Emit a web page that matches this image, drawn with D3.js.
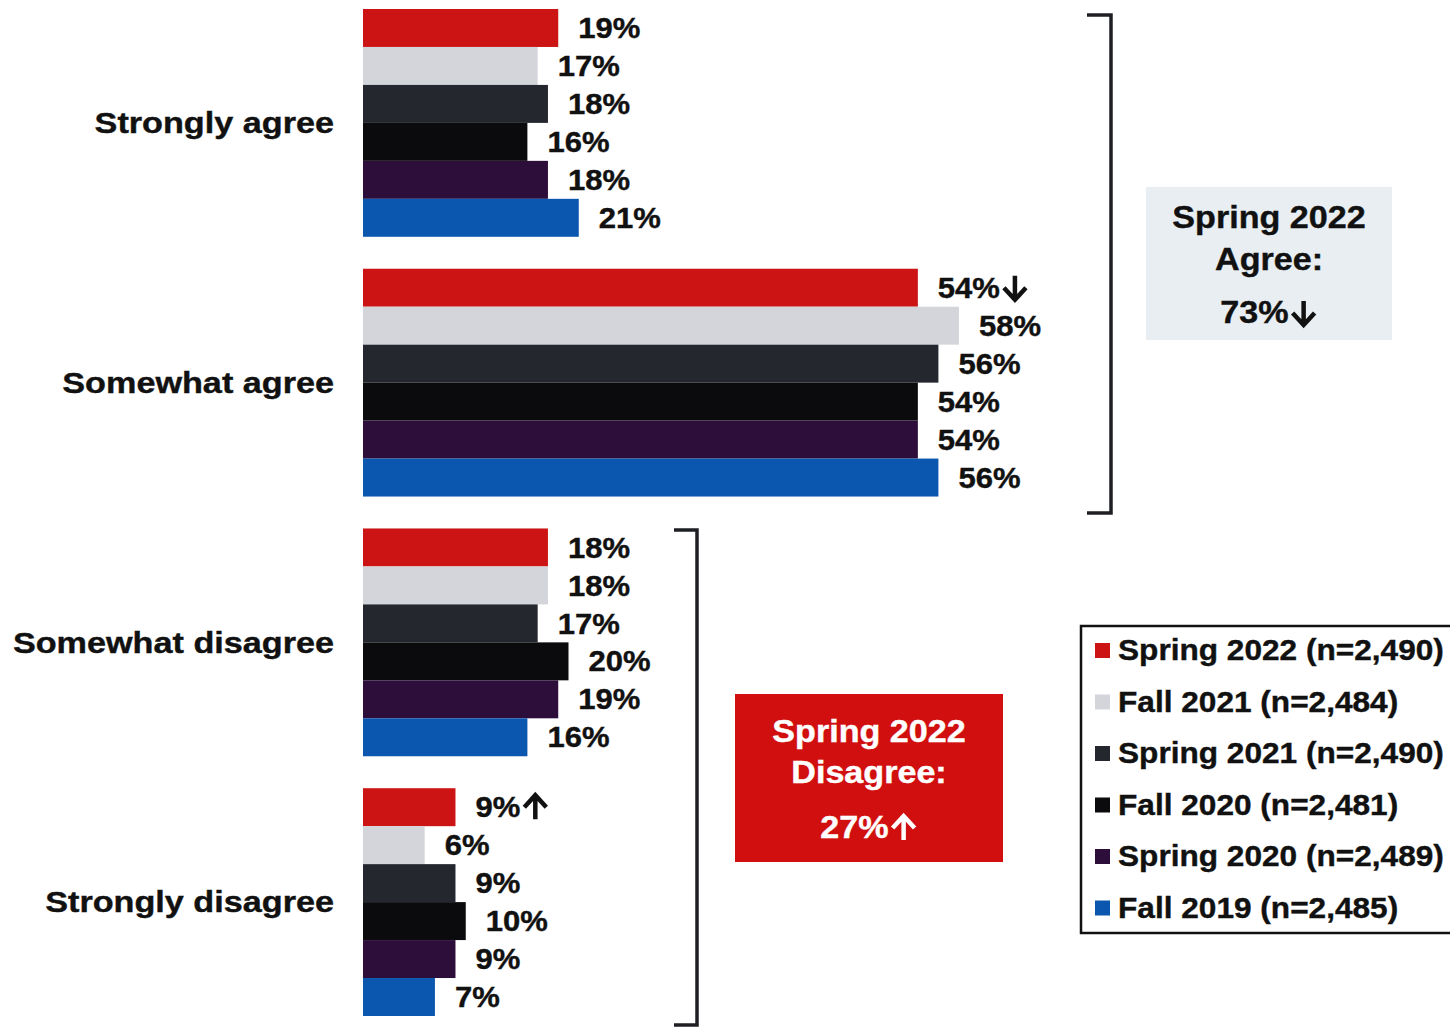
<!DOCTYPE html>
<html>
<head>
<meta charset="utf-8">
<script src="https://cdn.jsdelivr.net/npm/d3@7"></script>
<style>
  html, body { margin: 0; padding: 0; background: #fff; }
  svg { display: block; font-family: "Liberation Sans", Arial, sans-serif; font-weight: bold; }
</style>
</head>
<body>
<svg id="chart" width="1450" height="1027"></svg>
<script>
// Response categories (one bar group each)
const categories = ["Strongly agree", "Somewhat agree", "Somewhat disagree", "Strongly disagree"];

// Survey waves, top bar to bottom bar within each group
const waves = [
  "Spring 2022 (n=2,490)",
  "Fall 2021 (n=2,484)",
  "Spring 2021 (n=2,490)",
  "Fall 2020 (n=2,481)",
  "Spring 2020 (n=2,489)",
  "Fall 2019 (n=2,485)"
];

// Percent of respondents per category, by wave
const spring2022 = [19, 54, 18, 9];
const fall2021   = [17, 58, 18, 6];
const spring2021 = [18, 56, 17, 9];
const fall2020   = [16, 54, 20, 10];
const spring2020 = [18, 54, 19, 9];
const fall2019   = [21, 56, 16, 7];

// Significant change markers for the latest wave
const spring2022Change = ["", "down", "", "up"];

const waveValues = [spring2022, fall2021, spring2021, fall2020, spring2020, fall2019];
const waveColors = ["#cc1414", "#d3d5db", "#25272e", "#0b0b0d", "#2d0e3a", "#0b56ae"];

// Summary totals for Spring 2022
const agreeTotal = 73;
const disagreeTotal = 27;

const svg = d3.select("#chart");

const y0 = d3.scaleBand().domain(categories).range([9, 1016]).paddingInner(0.123).paddingOuter(0);
const y1 = d3.scaleBand().domain(waves).range([0, y0.bandwidth()]).padding(0);
const x = d3.scaleLinear().domain([0, 60]).range([363, 363 + 616.5]);
const color = d3.scaleOrdinal().domain(waves).range(waveColors);

const rows = [];
categories.forEach((c, ci) => {
  waves.forEach((w, wi) => {
    rows.push({ cat: c, wave: w, value: waveValues[wi][ci], change: wi === 0 ? spring2022Change[ci] : "" });
  });
});

// Heavy up/down arrow drawn as a path; (ax, cy) is left edge / vertical centre
function drawArrow(parent, ax, cy, dir, stroke) {
  const h = 24, w = 24;
  const cx = ax + w / 2;
  const top = cy - h / 2, bot = cy + h / 2;
  const d = dir === "down"
    ? `M${cx},${top} V${bot - 2} M${ax + 1},${bot - w / 2} L${cx},${bot} L${ax + w - 1},${bot - w / 2}`
    : `M${cx},${bot} V${top + 2} M${ax + 1},${top + w / 2} L${cx},${top} L${ax + w - 1},${top + w / 2}`;
  parent.append("path").attr("d", d).attr("fill", "none")
    .attr("stroke", stroke).attr("stroke-width", 4.5)
    .attr("stroke-linejoin", "miter").attr("stroke-linecap", "butt");
}

// Bars
svg.append("g").selectAll("rect").data(rows).join("rect")
  .attr("x", x(0))
  .attr("y", d => y0(d.cat) + y1(d.wave))
  .attr("width", d => x(d.value) - x(0))
  .attr("height", y1.bandwidth())
  .attr("fill", d => color(d.wave));

// Value labels
const labelScale = 1.07;
const lblG = svg.append("g");
rows.forEach(d => {
  const lx = x(d.value) + 20;
  const ly = y0(d.cat) + y1(d.wave) + y1.bandwidth() / 2;
  const t = lblG.append("text")
    .attr("transform", `translate(${lx},${ly}) scale(${labelScale},1)`)
    .attr("dominant-baseline", "central")
    .attr("font-size", 29)
    .attr("fill", "#111")
    .attr("stroke", "#111").attr("stroke-width", 0.4)
    .text(d.value + "%");
  if (d.change) {
    const w = t.node().getBBox().width * labelScale;
    drawArrow(lblG, lx + w + 3, ly, d.change, "#111");
  }
});

// Category labels
svg.append("g").selectAll("text").data(categories).join("text")
  .attr("transform", d => `translate(334,${y0(d) + y0.bandwidth() / 2}) scale(1.14,1)`)
  .attr("text-anchor", "end")
  .attr("dominant-baseline", "central")
  .attr("font-size", 30)
  .attr("fill", "#111")
  .attr("stroke", "#111").attr("stroke-width", 0.4)
  .text(d => d);

// Brackets grouping agree / disagree
const bracket = (xv, top, bottom, arm) => {
  svg.append("path")
    .attr("d", `M${xv - arm},${top} H${xv} V${bottom} H${xv - arm}`)
    .attr("fill", "none")
    .attr("stroke", "#1e1f24")
    .attr("stroke-width", 3.5);
};
bracket(1111, 15, 513, 24);
bracket(697, 530, 1025, 23);

// Summary boxes
function summaryBox(bx, by, bw, bh, fill, textColor, lines, total, dir, offsets) {
  const g = svg.append("g");
  g.append("rect").attr("x", bx).attr("y", by).attr("width", bw).attr("height", bh).attr("fill", fill);
  const cx = bx + bw / 2;
  lines.forEach((t, i) => {
    g.append("text")
      .attr("transform", `translate(${cx},${by + offsets[i]}) scale(1.1,1)`)
      .attr("text-anchor", "middle").attr("dominant-baseline", "central")
      .attr("font-size", 31).attr("fill", textColor)
      .attr("stroke", textColor).attr("stroke-width", 0.4)
      .text(t);
  });
  // total line: "NN%" followed by an arrow, centred as a unit
  const ly = by + offsets[2];
  const t = g.append("text")
    .attr("dominant-baseline", "central")
    .attr("font-size", 31).attr("fill", textColor)
    .attr("stroke", textColor).attr("stroke-width", 0.4)
    .text(total + "%");
  const tw = t.node().getBBox().width * 1.1;
  const unit = tw + 3 + 26;
  const sx = cx - unit / 2;
  t.attr("transform", `translate(${sx},${ly}) scale(1.1,1)`);
  drawArrow(g, sx + tw + 3, ly, dir, textColor);
}
summaryBox(1146, 187, 246, 153, "#e8eef2", "#111", ["Spring 2022", "Agree:"], agreeTotal, "down", [31, 73, 126]);
summaryBox(735, 694, 268, 168, "#d10f0f", "#fff", ["Spring 2022", "Disagree:"], disagreeTotal, "up", [38, 79, 134]);

// Legend
const lg = svg.append("g");
lg.append("rect").attr("x", 1081).attr("y", 626).attr("width", 380).attr("height", 307)
  .attr("fill", "#fff").attr("stroke", "#111").attr("stroke-width", 2.5);
const li = lg.selectAll("g.item").data(waves).join("g")
  .attr("class", "item")
  .attr("transform", (d, i) => `translate(1095,${650 + i * 51.5})`);
li.append("rect").attr("x", 0).attr("y", -7).attr("width", 15).attr("height", 15)
  .attr("fill", d => color(d));
li.append("text")
  .attr("transform", "translate(23,0) scale(1.09,1)")
  .attr("dominant-baseline", "central")
  .attr("font-size", 29).attr("fill", "#111")
  .attr("stroke", "#111").attr("stroke-width", 0.4)
  .text(d => d);
</script>
</body>
</html>
